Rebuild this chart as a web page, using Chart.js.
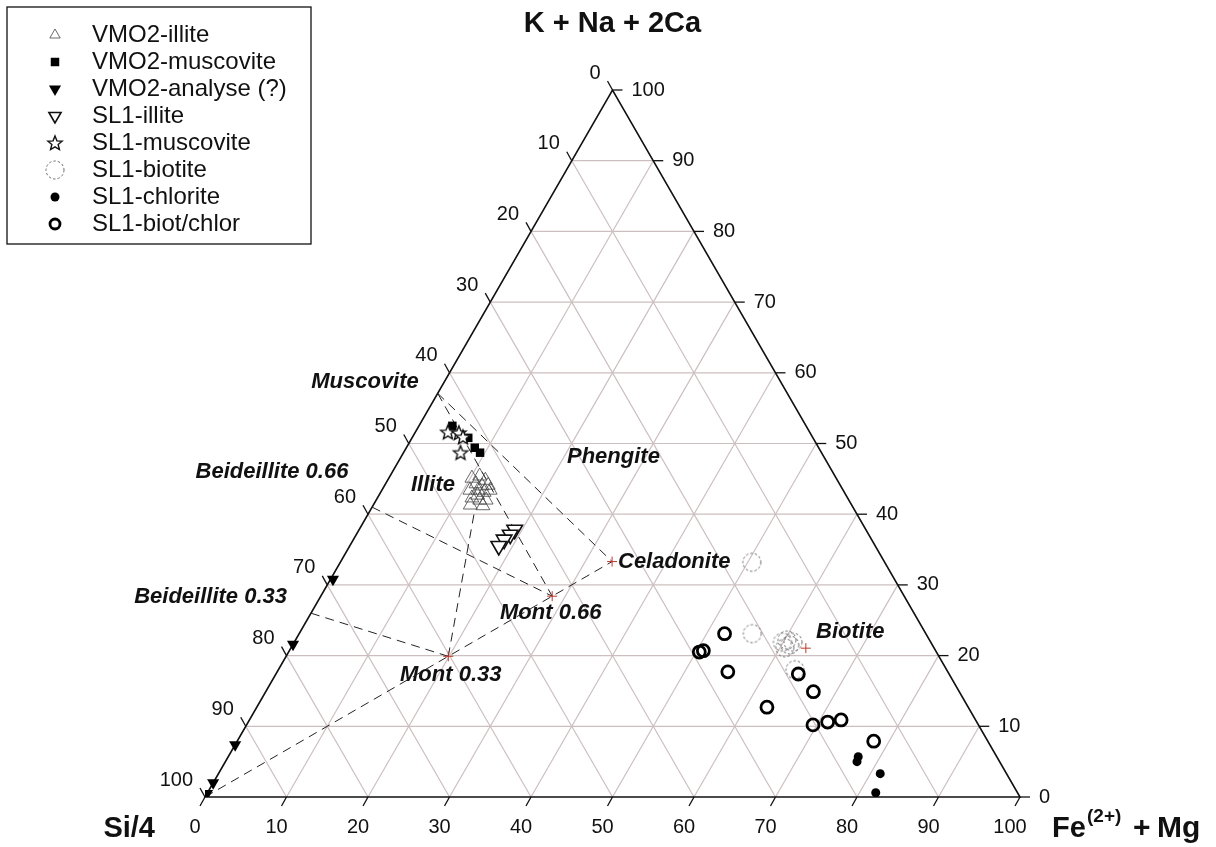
<!DOCTYPE html>
<html>
<head>
<meta charset="utf-8">
<script src="https://cdn.jsdelivr.net/npm/chart.js@4.4.0/dist/chart.umd.min.js"></script>
<style>
  html, body { margin: 0; padding: 0; background: #fff; }
  #wrap { width: 1216px; height: 847px; }
</style>
</head>
<body>
<div id="wrap"><canvas id="ternary" width="1216" height="847"></canvas></div>
<script>
// ternary values as [Fe+Mg, K+Na+2Ca] in %, Si/4 = 100 - both
const vmo2Illite = [
  [10.2, 45.1], [11.0, 45.4], [12.0, 44.8], [11.1, 44.3], [12.0, 44.0], [12.7, 44.1],
  [10.8, 43.4], [11.8, 43.4], [12.7, 43.1], [13.3, 43.4], [11.6, 42.3], [12.7, 42.0],
  [13.5, 42.0], [11.9, 41.3], [13.5, 41.2], [12.1, 42.7]
];
const vmo2Muscovite = [[4.1, 52.5], [6.9, 50.8], [8.4, 49.4], [9.4, 48.7]];
const vmo2Analyse = [[0.3, 30.8], [0.0, 21.6], [0.0, 7.4], [0.0, 2.0], [0.0, 0.5]];
const sl1Illite = [[19.1, 37.8], [18.9, 37.1], [18.5, 36.4], [18.3, 35.5]];
const sl1Muscovite = [[4.0, 51.6], [5.4, 51.5], [6.2, 50.9], [7.0, 48.7]];
const sl1Biotite = [
  [50.5, 33.2], [55.6, 23.1], [59.9, 21.9], [60.3, 22.2], [61.0, 21.5],
  [60.6, 21.1], [61.2, 21.9], [63.4, 18.0]
];
const sl1Chlorite = [[77.3, 5.7], [77.5, 5.0], [81.2, 3.3], [82.0, 0.6]];
const sl1BiotChlor = [
  [52.2, 23.1], [50.4, 20.5], [50.8, 20.7], [55.3, 17.7], [64.1, 17.4], [67.2, 14.9],
  [62.6, 12.7], [69.5, 10.2], [71.1, 10.6], [72.6, 10.9], [78.1, 7.9]
];

// end members (red crosses) and the dashed reference lines
const endMembers = {
  muscovite: [0, 57.1], celadonite: [33.3, 33.3], mont066: [28.4, 28.4],
  mont033: [19.9, 19.9], biotite: [63.2, 21.05], bei066: [0, 41.0], bei033: [0, 26.0],
  illite: [12.8, 40.6], siApex: [0, 0]
};
const refLines = [
  ['muscovite', 'celadonite'], ['siApex', 'celadonite'], ['bei066', 'mont066'],
  ['bei033', 'mont033'], ['mont033', 'illite'], ['muscovite', 'mont066']
];
const crossPoints = ['celadonite', 'mont066', 'mont033', 'biotite'];

const ticks = [0, 10, 20, 30, 40, 50, 60, 70, 80, 90, 100];

const regionLabels = [
  { text: 'Muscovite', px: [365, 382], align: 'center' },
  { text: 'Beideillite 0.66', px: [272, 472], align: 'center' },
  { text: 'Illite', px: [433, 485], align: 'center' },
  { text: 'Phengite', px: [567, 457], align: 'left' },
  { text: 'Celadonite', px: [618, 562], align: 'left' },
  { text: 'Mont 0.66', px: [500, 613], align: 'left' },
  { text: 'Mont 0.33', px: [400, 675], align: 'left' },
  { text: 'Beideillite 0.33', px: [287, 597], align: 'right' },
  { text: 'Biotite', px: [816, 632], align: 'left' }
];

function toXY(p) {
  return { x: p[0] + p[1] / 2, y: p[1] };
}

// custom point images
function starImage() {
  const c = document.createElement('canvas');
  c.width = 18; c.height = 18;
  const g = c.getContext('2d');
  g.beginPath();
  for (let i = 0; i < 10; i++) {
    const r = i % 2 === 0 ? 7.5 : 3.3;
    const a = -Math.PI / 2 + i * Math.PI / 5;
    const x = 9 + r * Math.cos(a), y = 9.5 + r * Math.sin(a);
    if (i === 0) g.moveTo(x, y); else g.lineTo(x, y);
  }
  g.closePath();
  g.fillStyle = '#fff';
  g.fill();
  g.lineWidth = 1.4;
  g.strokeStyle = '#111';
  g.stroke();
  return c;
}

function dashedCircleImage() {
  const c = document.createElement('canvas');
  c.width = 22; c.height = 22;
  const g = c.getContext('2d');
  g.beginPath();
  g.arc(11, 11, 9, 0, Math.PI * 2);
  g.setLineDash([2.5, 2]);
  g.lineWidth = 1;
  g.strokeStyle = '#6e6e6e';
  g.stroke();
  return c;
}

const star = starImage();
const dashedCircle = dashedCircleImage();

const datasets = [
  {
    label: 'VMO2-illite', data: vmo2Illite.map(toXY),
    pointStyle: 'triangle', radius: 8, borderWidth: 0.8,
    borderColor: '#444', backgroundColor: 'rgba(0,0,0,0)', order: 3
  },
  {
    label: 'VMO2-muscovite', data: vmo2Muscovite.map(toXY),
    pointStyle: 'rect', radius: 6, borderWidth: 0,
    borderColor: '#000', backgroundColor: '#000', order: 2
  },
  {
    label: 'VMO2-analyse (?)', data: vmo2Analyse.map(toXY),
    pointStyle: 'triangle', rotation: 180, radius: 7, borderWidth: 0,
    borderColor: '#000', backgroundColor: '#000', order: 2
  },
  {
    label: 'SL1-illite', data: sl1Illite.map(toXY),
    pointStyle: 'triangle', rotation: 180, radius: 9, borderWidth: 1.6,
    borderColor: '#111', backgroundColor: '#fff', order: 2
  },
  {
    label: 'SL1-muscovite', data: sl1Muscovite.map(toXY),
    pointStyle: star, radius: 8, order: 1
  },
  {
    label: 'SL1-biotite', data: sl1Biotite.map(toXY),
    pointStyle: dashedCircle, radius: 9, order: 3
  },
  {
    label: 'SL1-chlorite', data: sl1Chlorite.map(toXY),
    pointStyle: 'circle', radius: 4.5, borderWidth: 0,
    borderColor: '#000', backgroundColor: '#000', order: 2
  },
  {
    label: 'SL1-biot/chlor', data: sl1BiotChlor.map(toXY),
    pointStyle: 'circle', radius: 6, borderWidth: 2.8,
    borderColor: '#000', backgroundColor: 'rgba(0,0,0,0)', order: 2
  }
];

refLines.forEach(pair => {
  datasets.push({
    label: '_line', type: 'line', showLine: true,
    data: pair.map(n => toXY(endMembers[n])),
    borderColor: '#222', borderWidth: 1, borderDash: [9, 6],
    pointRadius: 0, fill: false, order: 10
  });
});

datasets.push({
  label: '_cross', data: crossPoints.map(n => toXY(endMembers[n])),
  pointStyle: 'cross', radius: 5, borderWidth: 1,
  borderColor: '#c0392b', backgroundColor: '#c0392b', order: 9
});

const FONT = '"Liberation Sans", Arial, sans-serif';

const ternaryFrame = {
  id: 'ternaryFrame',
  beforeDatasetsDraw(chart) {
    const ctx = chart.ctx;
    const sx = chart.scales.x, sy = chart.scales.y;
    const P = (fe, k) => [sx.getPixelForValue(fe + k / 2), sy.getPixelForValue(k)];

    ctx.save();
    // grid
    ctx.strokeStyle = '#cdbfbf';
    ctx.lineWidth = 1.2;
    ticks.slice(1, -1).forEach(v => {
      const lines = [
        [P(0, v), P(100 - v, v)],          // constant K
        [P(v, 0), P(v, 100 - v)],          // constant Fe
        [P(0, 100 - v), P(100 - v, 0)]     // constant Si
      ];
      lines.forEach(l => {
        ctx.beginPath();
        ctx.moveTo(l[0][0], l[0][1]);
        ctx.lineTo(l[1][0], l[1][1]);
        ctx.stroke();
      });
    });

    // outline
    const a = P(0, 0), b = P(100, 0), c = P(0, 100);
    ctx.strokeStyle = '#111';
    ctx.lineWidth = 1.6;
    ctx.beginPath();
    ctx.moveTo(a[0], a[1]); ctx.lineTo(b[0], b[1]); ctx.lineTo(c[0], c[1]); ctx.closePath();
    ctx.stroke();

    // ticks and tick labels
    ctx.fillStyle = '#111';
    ctx.font = '20px ' + FONT;
    ctx.lineWidth = 1.3;
    ticks.forEach(v => {
      // bottom: Fe + Mg
      let p = P(v, 0);
      ctx.beginPath(); ctx.moveTo(p[0], p[1]); ctx.lineTo(p[0] - 5, p[1] + 9); ctx.stroke();
      ctx.textAlign = 'center'; ctx.textBaseline = 'middle';
      ctx.fillText(String(v), p[0] - 10, p[1] + 30);

      // left: Si/4
      p = P(0, 100 - v);
      ctx.beginPath(); ctx.moveTo(p[0], p[1]); ctx.lineTo(p[0] - 5, p[1] - 9); ctx.stroke();
      ctx.textAlign = 'right';
      ctx.fillText(String(v), p[0] - 12, p[1] - 17);

      // right: K + Na + 2Ca
      p = P(100 - v, v);
      ctx.beginPath(); ctx.moveTo(p[0], p[1]); ctx.lineTo(p[0] + 10, p[1]); ctx.stroke();
      ctx.textAlign = 'left';
      ctx.fillText(String(v), p[0] + 19, p[1]);
    });

    // axis titles
    ctx.font = 'bold 29px ' + FONT;
    ctx.textAlign = 'center';
    ctx.fillText('K + Na + 2Ca', c[0], 24);
    ctx.textBaseline = 'alphabetic';
    ctx.textAlign = 'right';
    ctx.fillText('Si/4', 155, 837);
    ctx.textAlign = 'left';
    ctx.font = 'bold 29px ' + FONT;
    ctx.fillText('Fe', 1052, 837);
    ctx.font = 'bold 19px ' + FONT;
    ctx.fillText('(2+)', 1087, 822);
    ctx.font = 'bold 30px ' + FONT;
    ctx.fillText('+', 1133, 837);
    ctx.fillText('Mg', 1157, 837);

    // region labels
    ctx.textBaseline = 'middle';
    ctx.font = 'italic bold 22px ' + FONT;
    regionLabels.forEach(l => {
      ctx.textAlign = l.align;
      ctx.fillText(l.text, l.px[0], l.px[1]);
    });
    ctx.restore();
  },
  afterDraw(chart) {
    // legend box
    const ctx = chart.ctx;
    const boxed = chart.data.datasets.filter(d => d.label[0] !== '_');
    ctx.save();
    ctx.fillStyle = '#fff';
    ctx.fillRect(7, 7, 304, 237);
    ctx.strokeStyle = '#111';
    ctx.lineWidth = 1.3;
    ctx.strokeRect(7, 7, 304, 237);
    ctx.font = '24px ' + FONT;
    ctx.textAlign = 'left';
    ctx.textBaseline = 'middle';
    boxed.forEach((d, i) => {
      const y = 35 + i * 27;
      ctx.fillStyle = d.backgroundColor || '#fff';
      ctx.strokeStyle = d.borderColor || '#000';
      ctx.lineWidth = d.borderWidth || 0;
      let r = d.radius;
      if (d.label === 'VMO2-illite') r = 6;
      if (d.label === 'SL1-illite') r = 7;
      if (d.label === 'SL1-biot/chlor') r = 5;
      if (d.label === 'SL1-biotite') r = 8;
      Chart.helpers.drawPoint(ctx, {
        pointStyle: d.pointStyle, rotation: d.rotation || 0,
        radius: r, borderWidth: d.borderWidth || 0
      }, 55, y);
      ctx.fillStyle = '#111';
      ctx.fillText(d.label, 92, y);
    });
    ctx.restore();
  }
};

new Chart(document.getElementById('ternary').getContext('2d'), {
  type: 'scatter',
  data: { datasets: datasets },
  options: {
    responsive: false,
    animation: false,
    layout: { padding: { left: 205, right: 196, top: 90, bottom: 50 } },
    plugins: { legend: { display: false }, tooltip: { enabled: false } },
    scales: {
      x: { type: 'linear', min: 0, max: 100, display: false },
      y: { type: 'linear', min: 0, max: 100, display: false }
    }
  },
  plugins: [ternaryFrame]
});
</script>
</body>
</html>
